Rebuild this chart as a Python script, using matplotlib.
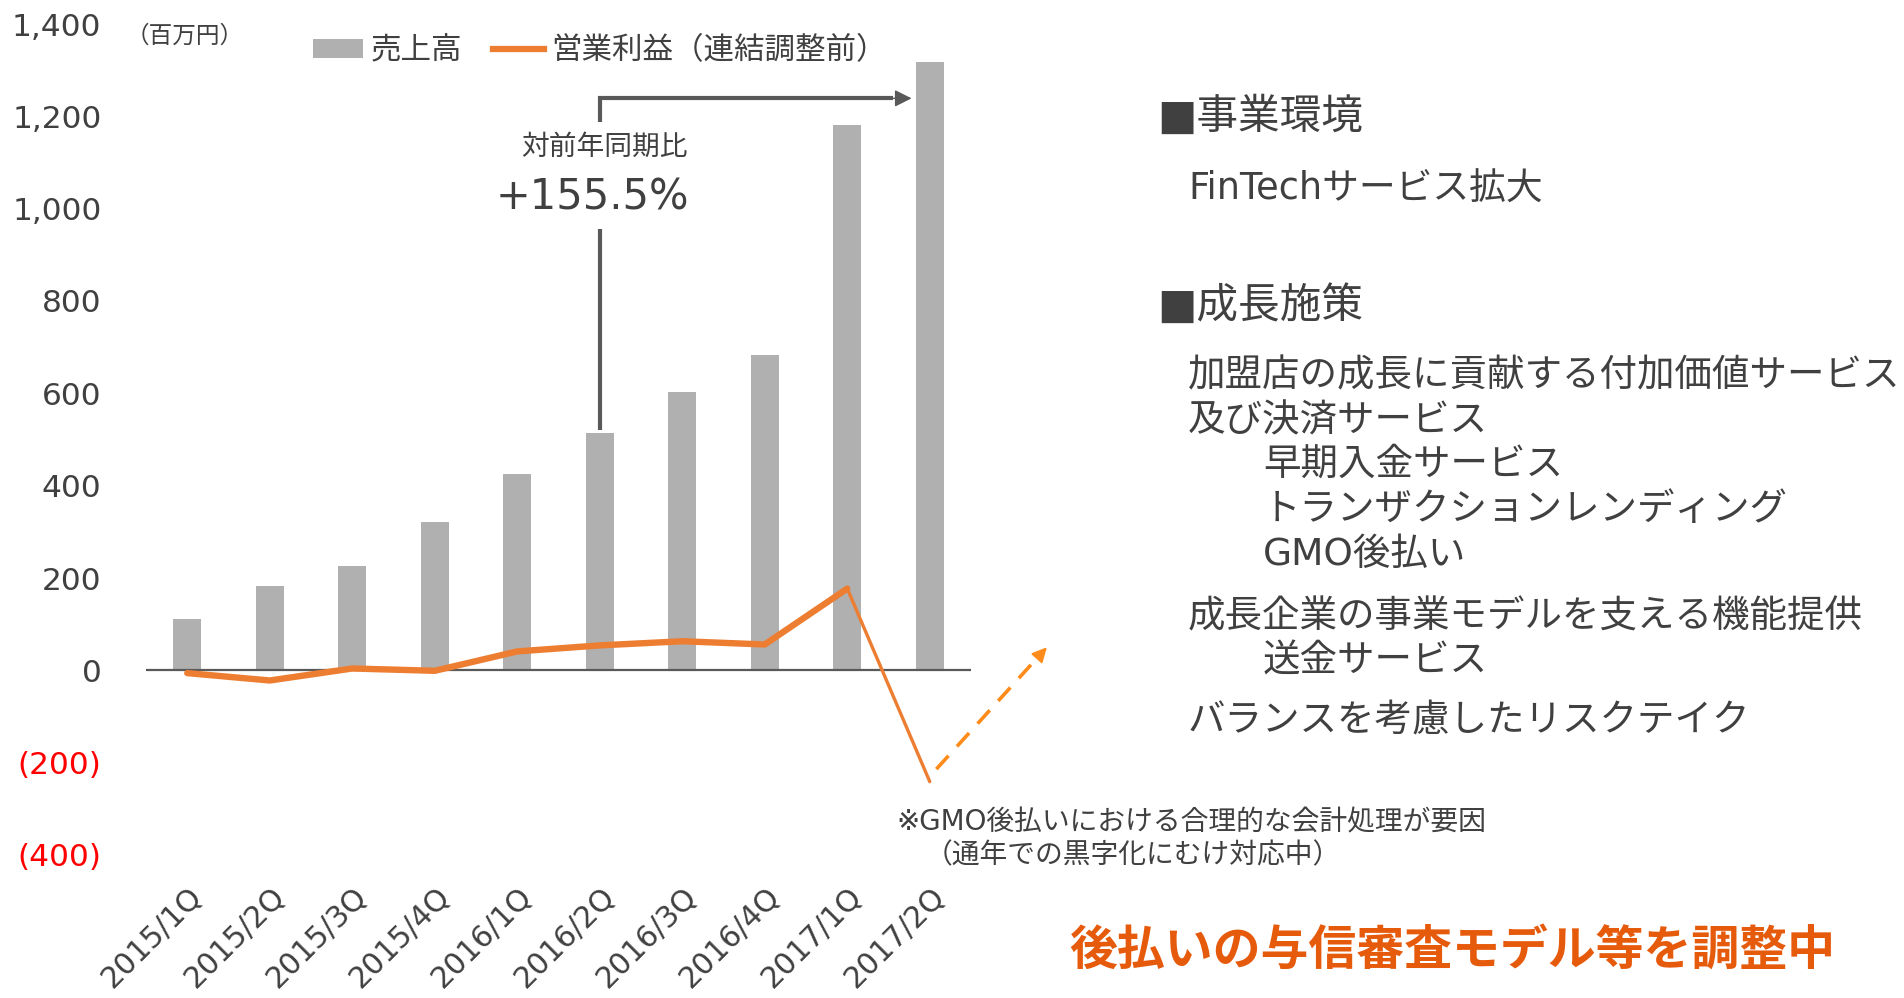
import matplotlib
matplotlib.use("Agg")
import matplotlib.pyplot as plt
from matplotlib.patches import Patch
from matplotlib.lines import Line2D
from matplotlib.transforms import ScaledTranslation

plt.rcParams['font.family'] = ['DejaVu Sans', 'Noto Sans CJK JP']

# ---- data ----
quarters = ['2015/1Q', '2015/2Q', '2015/3Q', '2015/4Q', '2016/1Q',
            '2016/2Q', '2016/3Q', '2016/4Q', '2017/1Q', '2017/2Q']
sales = [112, 183, 225, 321, 425, 515, 603, 684, 1181, 1318]
op_profit = [-6, -22, 4, -1, 41, 54, 63, 56, 177, -241]
y_ticks = [1400, 1200, 1000, 800, 600, 400, 200, 0, -200, -400]
y_tick_labels = ['1,400', '1,200', '1,000', '800', '600', '400', '200', '0', '(200)', '(400)']
legend_labels = ['売上高', '営業利益（連結調整前）']
unit_label = '（百万円）'
growth_caption = '対前年同期比'
growth_value = '+155.5%'
note_lines = ['※GMO後払いにおける合理的な会計処理が要因', '（通年での黒字化にむけ対応中）']
headline = '後払いの与信審査モデル等を調整中'
right_text = [
    ('■事業環境', 0, 117, 30),
    ('FinTechサービス拡大', 1, 189, 26.5),
    ('■成長施策', 0, 306, 30),
    ('加盟店の成長に貢献する付加価値サービス', 1, 376, 27),
    ('及び決済サービス', 1, 421, 27),
    ('早期入金サービス', 2, 465, 27),
    ('トランザクションレンディング', 2, 510, 27),
    ('GMO後払い', 2, 555, 27),
    ('成長企業の事業モデルを支える機能提供', 1, 617, 27),
    ('送金サービス', 2, 662, 27),
    ('バランスを考慮したリスクテイク', 1, 721, 27),
]
# annotation geometry (data units)
growth_from, growth_to = 5, 9
dash_start = (9.08, -214)
dash_end = (10.42, 50)

BAR = '#B0B0B0'
ORANGE = '#ED7D31'
DASH = '#FF8C1A'
TXT = '#404040'
AX = '#595959'
RED = '#FF0000'
HEAD = '#E65A0C'

W, H = 1904, 998
fig = plt.figure(figsize=(W / 100, H / 100), dpi=100)
fig.patch.set_facecolor('white')

def fx(x):
    return x / W

def fy(y):
    return 1 - y / H

ax = fig.add_axes([fx(146), fy(855), fx(971) - fx(146), fy(24) - fy(855)])
x = list(range(len(quarters)))
ax.bar(x, sales, width=0.34, color=BAR, zorder=2)
ax.axhline(0, color=AX, lw=1.6, zorder=3)
ax.plot(x[:9], op_profit[:9], color=ORANGE, lw=4.6, zorder=4,
        solid_joinstyle='round', solid_capstyle='round')
ax.plot(x[8:10], op_profit[8:10], color=ORANGE, lw=2.4, zorder=4,
        solid_capstyle='round')

# dashed recovery arrow
fr = 0.93
mid = (dash_start[0] + (dash_end[0] - dash_start[0]) * fr,
       dash_start[1] + (dash_end[1] - dash_start[1]) * fr)
ax.plot([dash_start[0], mid[0]], [dash_start[1], mid[1]], color=DASH, lw=2.6,
        dashes=(5, 3.5), clip_on=False, zorder=5)
ax.annotate('', xy=dash_end, xytext=mid,
            arrowprops=dict(arrowstyle='-|>', color=DASH, lw=1.5,
                            mutation_scale=22, shrinkA=0, shrinkB=0),
            annotation_clip=False)

# growth bracket
gx = x[growth_from]
top_y = 1239
ax.plot([gx, gx], [sales[growth_from] + 6, 955], color=AX, lw=3, zorder=5,
        solid_capstyle='butt')
ax.plot([gx, gx, 8.55], [1187, top_y, top_y], color=AX, lw=3, zorder=5,
        solid_capstyle='butt', solid_joinstyle='miter', clip_on=False)
ax.annotate('', xy=(x[growth_to] - 0.22, top_y), xytext=(8.5, top_y),
            arrowprops=dict(arrowstyle='-|>', color=AX, lw=1,
                            mutation_scale=26, shrinkA=0, shrinkB=0),
            annotation_clip=False)
ax.text(gx + 0.06, 1133, growth_caption, ha='center', va='center',
        fontsize=20, color=TXT)
ax.text(gx - 0.09, 1025, growth_value, ha='center', va='center',
        fontsize=30, color=TXT)

ax.set_xlim(-0.5, 9.5)
ax.set_ylim(-400, 1400)
ax.set_yticks(y_ticks)
ax.set_yticklabels(y_tick_labels, fontsize=22.5)
shift = ScaledTranslation(12 / 100, 0, fig.dpi_scale_trans)
for lbl, v in zip(ax.get_yticklabels(), y_ticks):
    lbl.set_color(RED if v < 0 else TXT)
    if v < 0:
        lbl.set_transform(lbl.get_transform() + shift)
ax.set_xticks(x)
ax.set_xticklabels(quarters, fontsize=21.5, color=TXT, rotation=45,
                   ha='right', va='top', rotation_mode='anchor')
ax.tick_params(axis='y', length=0, pad=32)
ax.tick_params(axis='x', length=0, pad=19)
for s in ax.spines.values():
    s.set_visible(False)
ax.set_facecolor('none')

# legend
handles = [Patch(facecolor=BAR, edgecolor='none'),
           Line2D([], [], color=ORANGE, lw=4.5)]
fig.legend(handles, legend_labels, loc='center left',
           bbox_to_anchor=(fx(313), fy(51)), ncol=2, frameon=False,
           fontsize=22, handlelength=1.65, handleheight=0.6,
           handletextpad=0.25, columnspacing=1.0, borderpad=0,
           borderaxespad=0, labelcolor=TXT)

fig.text(fx(126), fy(36), unit_label, fontsize=17, color=TXT, ha='left', va='center')

# note under chart
fig.text(fx(896), fy(822), note_lines[0], fontsize=20, color=TXT, ha='left', va='center')
fig.text(fx(925), fy(855), note_lines[1], fontsize=20, color=TXT, ha='left', va='center')

# headline
fig.text(fx(1069), fy(951), headline, fontsize=34.5, color=HEAD, fontweight='bold',
         ha='left', va='center')

# right-hand text
indent_x = {0: 1157, 1: 1188, 2: 1263}
for s, lvl, yy, fs in right_text:
    fig.text(fx(indent_x[lvl]), fy(yy), s, fontsize=fs, color=TXT, ha='left', va='center')

fig.savefig('out.png', dpi=100, facecolor='white')
